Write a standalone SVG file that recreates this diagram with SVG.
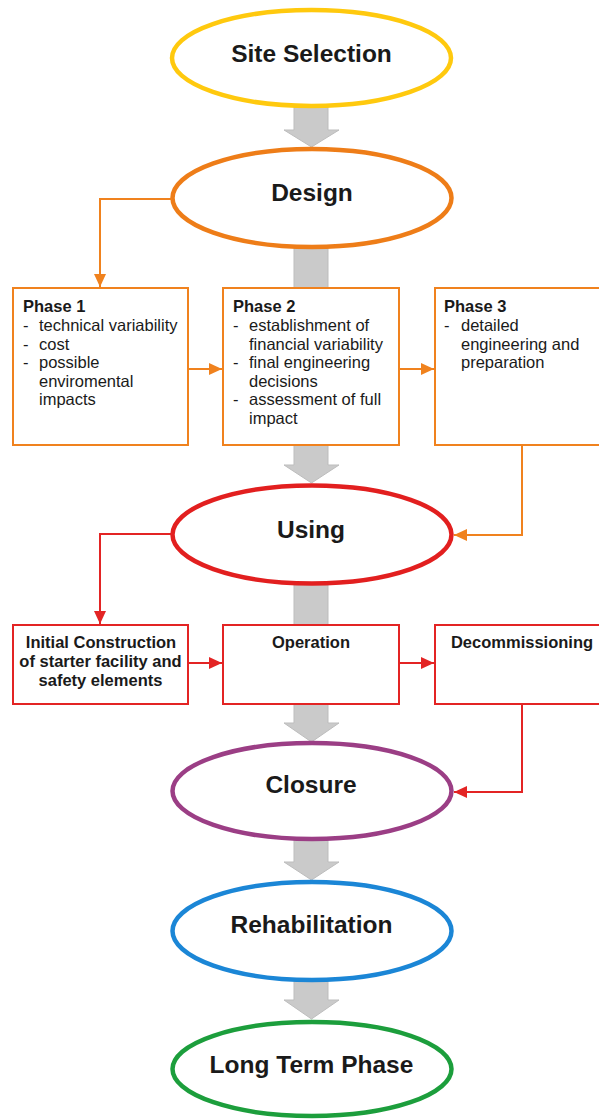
<svg xmlns="http://www.w3.org/2000/svg" width="599" height="1119" viewBox="0 0 599 1119">
<style>
.bg{fill:#ffffff}
.garrow{fill:#cacaca;stroke:#bdbdbd;stroke-width:1}
.ell{fill:#ffffff;stroke-width:4.5}
.etxt{font-family:"Liberation Sans",Arial,sans-serif;font-weight:bold;font-size:24.5px;fill:#1a1a1a;text-anchor:middle}
.obox{fill:#ffffff;stroke:#f0821e;stroke-width:2}
.rbox{fill:#ffffff;stroke:#e32424;stroke-width:2}
.btxt{font-family:"Liberation Sans",Arial,sans-serif;font-size:16.5px;fill:#1a1a1a}
.bold{font-weight:bold}
.ctr{text-anchor:middle}
.oline{fill:none;stroke:#f0821e;stroke-width:2}
.rline{fill:none;stroke:#e32424;stroke-width:2}
</style>
<defs>
<marker id="ah-o" markerUnits="userSpaceOnUse" markerWidth="13" markerHeight="12" refX="13" refY="6" orient="auto"><path d="M0,0 L13,6 L0,12 z" fill="#f0821e"/></marker>
<marker id="ah-r" markerUnits="userSpaceOnUse" markerWidth="13" markerHeight="12" refX="13" refY="6" orient="auto"><path d="M0,0 L13,6 L0,12 z" fill="#e32424"/></marker>
</defs>
<rect class="bg" x="0" y="0" width="599" height="1119"/>

<g id="flow-arrows">
<path class="garrow" d="M294,106 H328 V130 H339 L311.5,147 L284,130 H294 Z"/>
<path class="garrow" d="M294,246 H328 V465 H339 L311.5,483 L284,465 H294 Z"/>
<path class="garrow" d="M294,582 H328 V723 H339 L311.5,742 L284,723 H294 Z"/>
<path class="garrow" d="M294,839 H328 V862 H339 L311.5,880 L284,862 H294 Z"/>
<path class="garrow" d="M294,979 H328 V1000 H339 L311.5,1019 L284,1000 H294 Z"/>
</g>

<g id="site-selection">
<ellipse class="ell" cx="311.5" cy="58" rx="139.5" ry="48" stroke="#ffc90e"/>
<text class="etxt" x="311.5" y="62">Site Selection</text>
</g>
<g id="design">
<ellipse class="ell" cx="312" cy="198" rx="139.5" ry="49" stroke="#ee7d18"/>
<text class="etxt" x="312" y="201">Design</text>
</g>
<g id="phase1">
<rect class="obox" x="13" y="288" width="175" height="157"/>
<text class="btxt" x="23" y="312"><tspan class="bold">Phase 1</tspan></text>
<text class="btxt" x="23" y="331">-</text><text class="btxt" x="39" y="331">technical variability</text>
<text class="btxt" x="23" y="349.5">-</text><text class="btxt" x="39" y="349.5">cost</text>
<text class="btxt" x="23" y="368">-</text><text class="btxt" x="39" y="368">possible</text>
<text class="btxt" x="39" y="386.5">enviromental</text>
<text class="btxt" x="39" y="405">impacts</text>
</g>
<g id="phase2">
<rect class="obox" x="223" y="288" width="176" height="157"/>
<text class="btxt bold" x="233" y="312">Phase 2</text>
<text class="btxt" x="233" y="331">-</text><text class="btxt" x="249" y="331">establishment of</text>
<text class="btxt" x="249" y="349.5">financial variability</text>
<text class="btxt" x="233" y="368">-</text><text class="btxt" x="249" y="368">final engineering</text>
<text class="btxt" x="249" y="386.5">decisions</text>
<text class="btxt" x="233" y="405">-</text><text class="btxt" x="249" y="405">assessment of full</text>
<text class="btxt" x="249" y="423.5">impact</text>
</g>
<g id="phase3">
<rect class="obox" x="435" y="288" width="175" height="157"/>
<text class="btxt bold" x="444" y="312">Phase 3</text>
<text class="btxt" x="444" y="331">-</text><text class="btxt" x="461" y="331">detailed</text>
<text class="btxt" x="461" y="349.5">engineering and</text>
<text class="btxt" x="461" y="368">preparation</text>
</g>
<g id="using">
<ellipse class="ell" cx="312" cy="534.5" rx="139.5" ry="49" stroke="#e21f1f"/>
<text class="etxt" x="311" y="538">Using</text>
</g>
<g id="initial-construction">
<rect class="rbox" x="13" y="625" width="175" height="79"/>
<text class="btxt bold ctr" x="101" y="648">Initial Construction</text>
<text class="btxt bold ctr" x="100.5" y="667">of starter facility and</text>
<text class="btxt bold ctr" x="100.5" y="686">safety elements</text>
</g>
<g id="operation">
<rect class="rbox" x="223" y="625" width="176" height="79"/>
<text class="btxt bold ctr" x="311" y="648">Operation</text>
</g>
<g id="decommissioning">
<rect class="rbox" x="435" y="625" width="175" height="79"/>
<text class="btxt bold ctr" x="522" y="648">Decommissioning</text>
</g>
<g id="closure">
<ellipse class="ell" cx="312" cy="791" rx="139.5" ry="48" stroke="#9b3e85"/>
<text class="etxt" x="311" y="793">Closure</text>
</g>
<g id="rehabilitation">
<ellipse class="ell" cx="312" cy="931" rx="139.5" ry="49" stroke="#1b86d6"/>
<text class="etxt" x="311.5" y="933">Rehabilitation</text>
</g>
<g id="long-term-phase">
<ellipse class="ell" cx="312" cy="1069" rx="139.5" ry="47" stroke="#1c9e3c"/>
<text class="etxt" x="311.5" y="1073">Long Term Phase</text>
</g>

<g id="connectors">
<path class="oline" d="M172,199 H100 V287" marker-end="url(#ah-o)"/>
<path class="oline" d="M188,369 H222" marker-end="url(#ah-o)"/>
<path class="oline" d="M399,369 H434" marker-end="url(#ah-o)"/>
<path class="oline" d="M522,445 V535 H454" marker-end="url(#ah-o)"/>
<path class="rline" d="M172,534 H100 V624" marker-end="url(#ah-r)"/>
<path class="rline" d="M188,663 H222" marker-end="url(#ah-r)"/>
<path class="rline" d="M399,663 H434" marker-end="url(#ah-r)"/>
<path class="rline" d="M522,704 V792 H454" marker-end="url(#ah-r)"/>
</g>
</svg>
